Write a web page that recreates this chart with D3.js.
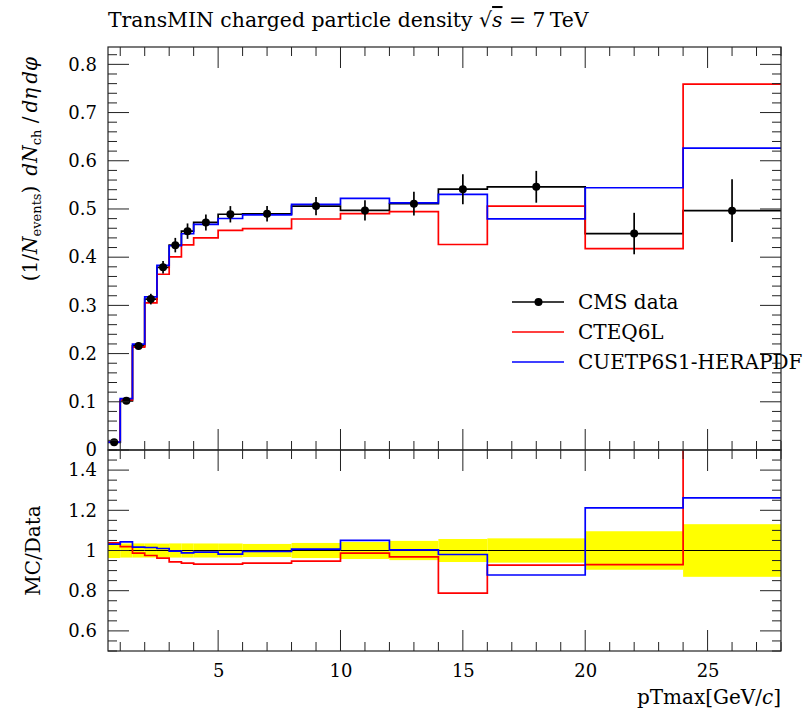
<!DOCTYPE html>
<html>
<head>
<meta charset="utf-8">
<script src="https://cdn.jsdelivr.net/npm/d3@7"></script>
<style>
  html, body { margin: 0; padding: 0; background: #fff; overflow: hidden; }
  svg text { font-family: "DejaVu Serif", "Liberation Serif", serif; fill: #000; }
</style>
</head>
<body>
<script>
// Bin edges in pTmax [GeV/c]
const binEdges = [0.5, 1, 1.5, 2, 2.5, 3, 3.5, 4, 5, 6, 8, 10, 12, 14, 16, 20, 24, 28];

// CMS measurement and its uncertainty per bin
const cmsData = [0.016, 0.102, 0.216, 0.313, 0.379, 0.425, 0.454, 0.472, 0.489, 0.490,
                 0.506, 0.497, 0.511, 0.541, 0.546, 0.449, 0.4965];
const cmsErr  = [0.0006, 0.0036, 0.0076, 0.011, 0.013, 0.015, 0.016, 0.0165, 0.017, 0.016,
                 0.019, 0.021, 0.0245, 0.031, 0.033, 0.043, 0.065];

// Monte Carlo predictions
const cteq6l  = [0.0166, 0.1040, 0.2132, 0.3052, 0.3646, 0.4008, 0.4254, 0.4399, 0.4557, 0.4591,
                 0.4792, 0.4905, 0.4946, 0.4263, 0.5061, 0.4176, 0.7590];
const cuetp6s1 = [0.0165, 0.1064, 0.2197, 0.3177, 0.3828, 0.4237, 0.4486, 0.4682, 0.4802, 0.4876,
                  0.5095, 0.5219, 0.5125, 0.5302, 0.4794, 0.5440, 0.6263];

// Axis ticks
const xMajorTicks = [5, 10, 15, 20, 25];
const xMinorTicks = d3.range(1, 29);
const yMainMajor = [0, 0.1, 0.2, 0.3, 0.4, 0.5, 0.6, 0.7, 0.8];
const yMainLabels = ["0", "0.1", "0.2", "0.3", "0.4", "0.5", "0.6", "0.7", "0.8"];
const yMainMinor = d3.range(0, 0.8301, 0.02);
const yRatioMajor = [0.6, 0.8, 1.0, 1.2, 1.4];
const yRatioLabels = ["0.6", "0.8", "1", "1.2", "1.4"];
const yRatioMinor = d3.range(0.5, 1.5001, 0.05);

const series = [
  { name: "CMS data", values: cmsData, color: "#000000" },
  { name: "CTEQ6L", values: cteq6l, color: "#ff0000" },
  { name: "CUETP6S1-HERAPDF", values: cuetp6s1, color: "#0000ff" }
];

const W = 807, H = 712;
const L = 108, R = 781, T = 47, MID = 450, B = 651;
const MAJ = 21, MIN = 9;
const FONT = "DejaVu Serif";

const svg = d3.select("body").append("svg").attr("width", W).attr("height", H);

const x = d3.scaleLinear().domain([0.5, 28]).range([L, R]);
const y = d3.scaleLinear().domain([0, 0.836]).range([MID, T]);
const yr = d3.scaleLinear().domain([0.5, 1.5]).range([B, MID]);

const defs = svg.append("defs");
defs.append("clipPath").attr("id", "clipMain")
  .append("rect").attr("x", L).attr("y", T).attr("width", R - L).attr("height", MID - T);
defs.append("clipPath").attr("id", "clipRatio")
  .append("rect").attr("x", L).attr("y", MID).attr("width", R - L).attr("height", B - MID);

// step points: each bin value from its low edge, repeated at the last edge
function stepPoints(vals) {
  const pts = vals.map((v, i) => [binEdges[i], v]);
  pts.push([binEdges[binEdges.length - 1], vals[vals.length - 1]]);
  return pts;
}
const mainLine = d3.line().x(d => x(d[0])).y(d => y(d[1])).curve(d3.curveStepAfter);
const ratioLine = d3.line().x(d => x(d[0])).y(d => yr(d[1])).curve(d3.curveStepAfter);

const bins = cmsData.map((v, i) => ({
  lo: binEdges[i], hi: binEdges[i + 1], mid: (binEdges[i] + binEdges[i + 1]) / 2, v, e: cmsErr[i]
}));

// ---------- main panel ----------
const gMain = svg.append("g").attr("clip-path", "url(#clipMain)");
series.forEach(s => {
  gMain.append("path").attr("d", mainLine(stepPoints(s.values)))
    .attr("fill", "none").attr("stroke", s.color).attr("stroke-width", 1.7);
});
gMain.selectAll("line.err").data(bins).join("line").attr("class", "err")
  .attr("x1", d => x(d.mid)).attr("x2", d => x(d.mid))
  .attr("y1", d => y(d.v - d.e)).attr("y2", d => y(d.v + d.e))
  .attr("stroke", "#000").attr("stroke-width", 1.7);
gMain.selectAll("circle.pt").data(bins).join("circle").attr("class", "pt")
  .attr("cx", d => x(d.mid)).attr("cy", d => y(d.v)).attr("r", 4).attr("fill", "#000");

// ---------- ratio panel ----------
const gRatio = svg.append("g").attr("clip-path", "url(#clipRatio)");
gRatio.selectAll("rect.band").data(bins).join("rect").attr("class", "band")
  .attr("x", d => x(d.lo)).attr("width", d => x(d.hi) - x(d.lo))
  .attr("y", d => yr(1 + d.e / d.v)).attr("height", d => yr(1 - d.e / d.v) - yr(1 + d.e / d.v))
  .attr("fill", "#ffff00");
series.forEach((s, k) => {
  const ratio = s.values.map((v, i) => v / cmsData[i]);
  gRatio.append("path").attr("d", ratioLine(stepPoints(ratio)))
    .attr("fill", "none").attr("stroke", s.color).attr("stroke-width", k === 0 ? 1 : 1.7);
});

// ---------- legend ----------
const legend = svg.append("g");
const legY = [302, 332, 362];
series.forEach((s, i) => {
  legend.append("line").attr("x1", 512).attr("x2", 564).attr("y1", legY[i]).attr("y2", legY[i])
    .attr("stroke", s.color).attr("stroke-width", 1.7);
  if (i === 0) legend.append("circle").attr("cx", 538.5).attr("cy", legY[i]).attr("r", 4).attr("fill", "#000");
  legend.append("text").attr("x", 578).attr("y", legY[i] + 7).attr("font-size", 20).text(s.name);
});

// ---------- frames and ticks ----------
function frame(y0, y1) {
  svg.append("rect").attr("x", L).attr("y", y0).attr("width", R - L).attr("height", y1 - y0)
    .attr("fill", "none").attr("stroke", "#222").attr("stroke-width", 1.2);
}
frame(T, MID);
frame(MID, B);

function xTicks(yEdge, dir) {
  const g = svg.append("g");
  [[xMinorTicks.filter(t => t % 5 !== 0), MIN], [xMajorTicks, MAJ]].forEach(([ticks, len]) => {
    g.selectAll(null).data(ticks).join("line")
      .attr("x1", d => x(d)).attr("x2", d => x(d))
      .attr("y1", yEdge).attr("y2", yEdge + dir * len)
      .attr("stroke", "#222").attr("stroke-width", 1);
  });
}
xTicks(T, 1); xTicks(MID, -1); xTicks(MID, 1); xTicks(B, -1);

function yTicks(scale, minor, major) {
  const g = svg.append("g");
  const minorOnly = minor.filter(m => !major.some(M => Math.abs(M - m) < 1e-6));
  [[minorOnly, MIN], [major, MAJ]].forEach(([ticks, len]) => {
    g.selectAll(null).data(ticks).join("line")
      .attr("x1", L).attr("x2", L + len).attr("y1", d => scale(d)).attr("y2", d => scale(d))
      .attr("stroke", "#222").attr("stroke-width", 1);
    g.selectAll(null).data(ticks).join("line")
      .attr("x1", R).attr("x2", R - len).attr("y1", d => scale(d)).attr("y2", d => scale(d))
      .attr("stroke", "#222").attr("stroke-width", 1);
  });
}
yTicks(y, yMainMinor, yMainMajor);
yTicks(yr, yRatioMinor, yRatioMajor);

// tick labels
const yAxisMain = d3.axisLeft(y).tickValues(yMainMajor).tickSize(0).tickPadding(11)
  .tickFormat((d, i) => yMainLabels[i]);
svg.append("g").attr("transform", `translate(${L},0)`).call(yAxisMain)
  .call(g => g.select(".domain").remove())
  .call(g => g.selectAll("text").attr("font-size", 18).attr("font-family", FONT));
const yAxisRatio = d3.axisLeft(yr).tickValues(yRatioMajor).tickSize(0).tickPadding(11)
  .tickFormat((d, i) => yRatioLabels[i]);
svg.append("g").attr("transform", `translate(${L},0)`).call(yAxisRatio)
  .call(g => g.select(".domain").remove())
  .call(g => g.selectAll("text").attr("font-size", 18).attr("font-family", FONT));
const xAxis = d3.axisBottom(x).tickValues(xMajorTicks).tickSize(0).tickPadding(13);
svg.append("g").attr("transform", `translate(0,${B})`).call(xAxis)
  .call(g => g.select(".domain").remove())
  .call(g => g.selectAll("text").attr("font-size", 18).attr("font-family", FONT));

// ---------- titles ----------
const title = svg.append("text").attr("x", L).attr("y", 27).attr("font-size", 20.4);
title.append("tspan").text("TransMIN charged particle density ");
title.append("tspan").text("\u221A");
title.append("tspan").attr("font-style", "italic").attr("text-decoration", "overline").text("s");
title.append("tspan").text(" = 7\u2009TeV");

const xl = svg.append("text").attr("x", R).attr("y", 704).attr("text-anchor", "end").attr("font-size", 20);
xl.append("tspan").text("pTmax[GeV/");
xl.append("tspan").attr("font-style", "italic").text("c");
xl.append("tspan").text("]");

const yl = svg.append("text").attr("transform", "translate(37,57) rotate(-90)")
  .attr("text-anchor", "end").attr("font-size", 20);
yl.append("tspan").text("(1/");
yl.append("tspan").attr("font-style", "italic").text("N");
yl.append("tspan").attr("font-size", 13).attr("dy", 4).text("events");
yl.append("tspan").attr("dy", -4).text(")\u2002");
yl.append("tspan").attr("font-style", "italic").text("dN");
yl.append("tspan").attr("font-size", 13).attr("dy", 4).text("ch");
yl.append("tspan").attr("dy", -4).text(" /\u2009");
yl.append("tspan").attr("font-style", "italic").text("d\u03B7\u2009d\u03C6");

svg.append("text").attr("transform", `translate(40,${yr(1)}) rotate(-90)`)
  .attr("text-anchor", "middle").attr("font-size", 20).text("MC/Data");
</script>
</body>
</html>
